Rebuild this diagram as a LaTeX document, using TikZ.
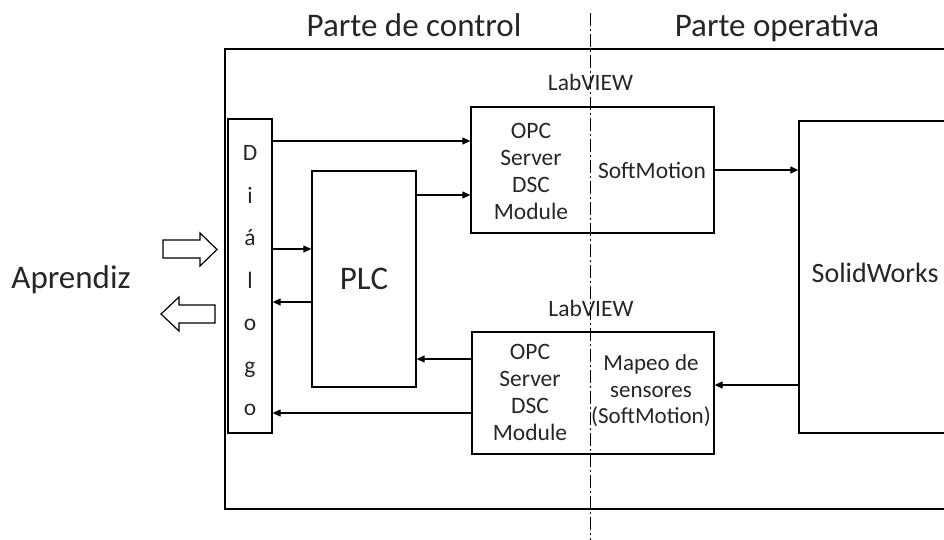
\documentclass[tikz,border=0pt]{standalone}
\usepackage{fontspec}
\setmainfont{Carlito}
\usetikzlibrary{arrows.meta}

\begin{document}
\begin{tikzpicture}[x=1pt, y=-1pt, line width=1.3pt,
  every node/.style={font=\fontsize{23.5}{27}\selectfont, inner sep=0pt, text=black!85},
  box/.style={draw, text=black!85},
  big/.style={font=\fontsize{33}{38}\selectfont},
  arr/.style={-{Triangle[length=8pt,width=7pt]}, line width=1.2pt},
  hollow/.style={draw, line width=1.2pt, fill=white},
  divider/.style={dash pattern=on 13pt off 3pt on 2pt off 3pt, line width=1pt}]
\useasboundingbox (0,0) rectangle (944,539);
% titles and divider
\node[big, anchor=base] (ctrl) at (414,36) {Parte de control};
\node[big, anchor=base] (oper) at (777,36) {Parte operativa};
\coordinate (divtop) at (590,13);
\coordinate (divbot) at (590,545);
\draw[divider] (divtop) -- (divbot);
% outer frame
\draw (960,49) -| (225,509) -- (960,509);
% blocks
\node[box, minimum width=44pt, minimum height=314pt] (dialogo) at (250,276) {};
\node[align=center, font=\fontsize{23.5}{42.5}\selectfont] (dlgtxt) at (250,281) {D\\i\\á\\l\\o\\g\\o};
\node[box, big, minimum width=104pt, minimum height=216pt] (plc) at (364,279) {PLC};
\node[box, minimum width=243pt, minimum height=126pt] (opcA) at (592.5,170) {};
\node[box, minimum width=242pt, minimum height=122pt] (opcB) at (593,393) {};
\node[box, minimum width=170pt, minimum height=312pt] (solid) at (884,277) {};
% texts
\node[anchor=base] (lvA) at (590.5,90) {LabVIEW};
\node[anchor=base] (lvB) at (591,316) {LabVIEW};
\node[align=center] (opcAtxt) at (531,171) {OPC\\Server\\DSC\\Module};
\node (smA) at (652,170) {SoftMotion};
\node[align=center] (opcBtxt) at (530,392) {OPC\\Server\\DSC\\Module};
\node[align=center, font=\fontsize{23}{26.5}\selectfont] (mapeo) at (651,391) {Mapeo de\\sensores\\(SoftMotion)};
\node[anchor=base west, font=\fontsize{28}{32}\selectfont] (solidtxt) at (811,282) {SolidWorks};
\node[big, anchor=base] (aprendiz) at (71,288) {Aprendiz};
% connectors
\draw[arr] (dialogo.east |- 0,141) -- (opcA.west |- 0,141);
\draw[arr] (plc.east |- 0,195) -- (opcA.west |- 0,195);
\draw[arr] (dialogo.east |- 0,249) -- (plc.west |- 0,249);
\draw[arr] (plc.west |- 0,302) -- (dialogo.east |- 0,302);
\draw[arr] (opcB.west |- 0,359) -- (plc.east |- 0,359);
\draw[arr] (opcB.west |- 0,413) -- (dialogo.east |- 0,413);
\draw[arr] (opcA.east) -- (solid.west |- opcA.east);
\draw[arr] (solid.west |- 0,385) -- (opcB.east |- 0,385);
% hollow arrows
\draw[hollow] (163,240) -- (200,240) -- (200,233) -- (217,249.5) -- (200,266) -- (200,258) -- (163,258) -- cycle;
\draw[hollow] (215,305) -- (179,305) -- (179,297) -- (161,314) -- (179,331) -- (179,323) -- (215,323) -- cycle;
\end{tikzpicture}
\end{document}
